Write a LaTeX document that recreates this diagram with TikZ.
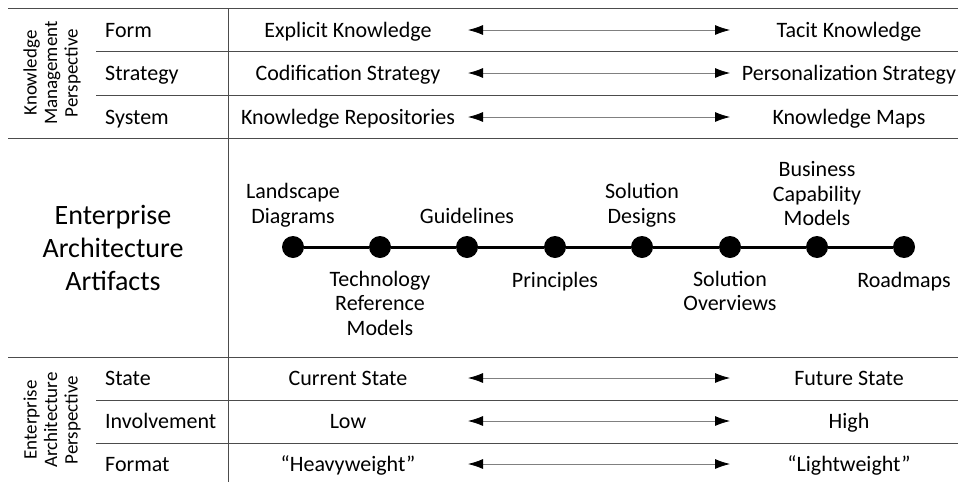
\documentclass[tikz,border=0pt]{standalone}
\usepackage{fontspec}
\setmainfont{Carlito}
\usetikzlibrary{arrows.meta}
\begin{document}
\begin{tikzpicture}[x=1pt,y=-1pt,
  rule/.style={draw=black!70, line width=1pt},
  lbl/.style={font=\fontsize{22}{24.5}\selectfont, inner sep=0pt},
  row/.style={lbl, anchor=base},
  item/.style={lbl, align=center},
  side/.style={font=\fontsize{19}{20.5}\selectfont, align=center, rotate=90, inner sep=0pt},
  title/.style={font=\fontsize{28}{33}\selectfont, align=center, inner sep=0pt},
  span/.style={draw=black!50, line width=0.8pt, {Latex[length=15pt,width=10pt,black]}-{Latex[length=15pt,width=10pt,black]}},
  dot/.style={circle, fill=black, minimum size=22pt, inner sep=0pt},
  track/.style={line width=3pt, black}]
\useasboundingbox (0,0) rectangle (958,482);

% table rules
\draw[rule] (8,8) -- (958,8);
\draw[rule] (96,51) -- (958,51);
\draw[rule] (96,95) -- (958,95);
\draw[rule] (8,138) -- (958,138);
\draw[rule] (8,357) -- (958,357);
\draw[rule] (96,400) -- (958,400);
\draw[rule] (96,443) -- (958,443);
\draw[rule] (228,8) -- (228,482);

% section headings
\node[side] (kmp) at (52,73) {Knowledge\\Management\\Perspective};
\node[side] (eap) at (52,420) {Enterprise\\Architecture\\Perspective};
\node[title] (eaa) at (113,248) {Enterprise\\Architecture\\Artifacts};

% knowledge management and architecture rows (y = baseline, m = arrow height)
\foreach \name/\y/\m/\dim/\lo/\hi in {
  form/37/30/Form/Explicit Knowledge/Tacit Knowledge,
  strat/80.5/73/Strategy/Codification Strategy/Personalization Strategy,
  sys/124/117/System/Knowledge Repositories/Knowledge Maps,
  state/385/378/State/Current State/Future State,
  inv/428/421/Involvement/Low/High,
  fmt/471.5/464/Format/“Heavyweight”/“Lightweight”}{
  \node[row, anchor=base west] (\name-d) at (105,\y) {\dim};
  \node[row] (\name-l) at (348,\y) {\lo};
  \node[row] (\name-h) at (849,\y) {\hi};
  \coordinate (\name-a) at (468,\m);
  \coordinate (\name-b) at (730,\m);
  \draw[span] (\name-a) -- (\name-b);
}

% artifact timeline
\foreach \i/\x in {1/293,2/380,3/467,4/555,5/642,6/730,7/817,8/904}
  \node[dot] (d\i) at (\x,247) {};
\draw[track] (d1) -- (d2) -- (d3) -- (d4) -- (d5) -- (d6) -- (d7) -- (d8);

\node[item] (t1) at (293,205) {Landscape\\Diagrams};
\node[item] (t2) at (380,303) {Technology\\Reference\\Models};
\node[item] (t3) at (467,216) {Guidelines};
\node[item] (t4) at (555,282) {Principles};
\node[item] (t5) at (642,205) {Solution\\Designs};
\node[item] (t6) at (730,291) {Solution\\Overviews};
\node[item] (t7) at (817,194) {Business\\Capability\\Models};
\node[item] (t8) at (904,282) {Roadmaps};
\end{tikzpicture}
\end{document}
